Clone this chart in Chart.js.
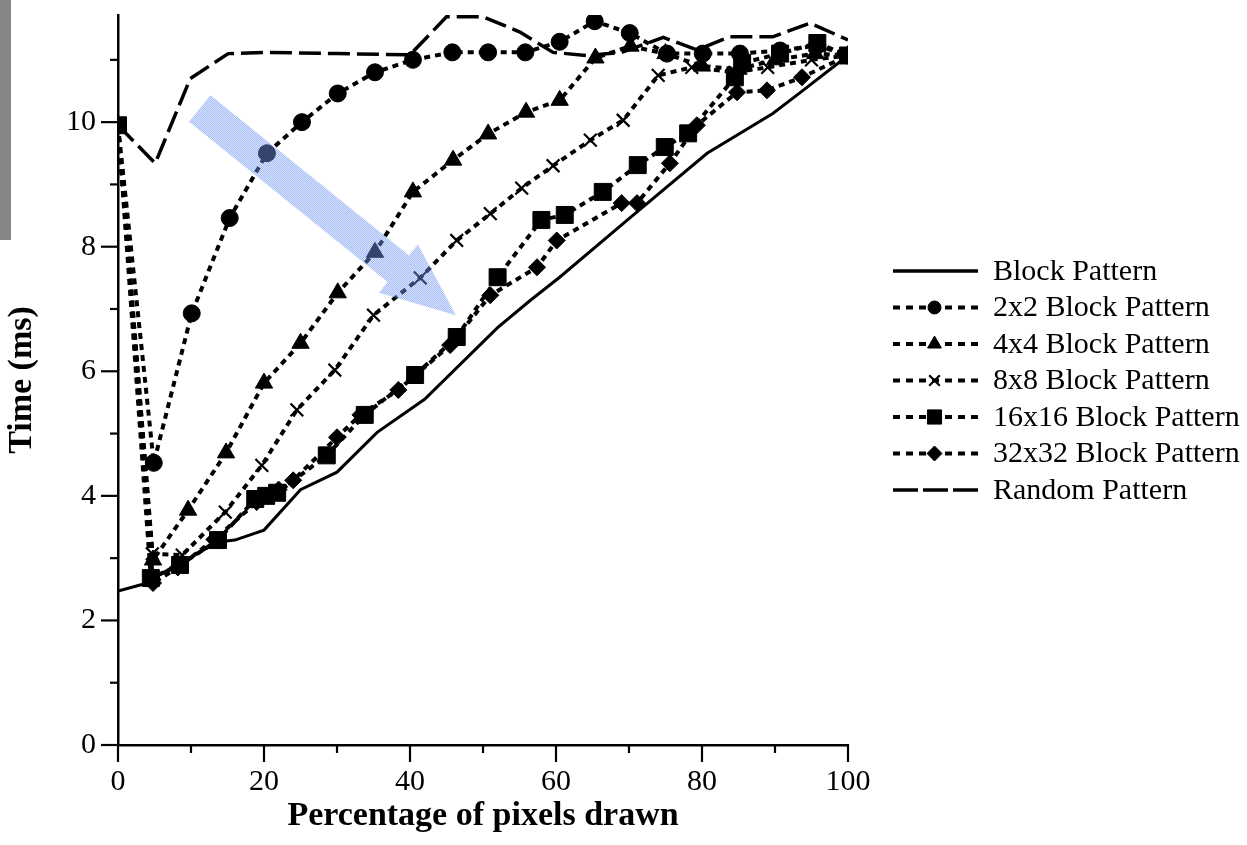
<!DOCTYPE html>
<html>
<head>
<meta charset="utf-8">
<script src="https://cdn.jsdelivr.net/npm/chart.js@4.4.1/dist/chart.umd.min.js"></script>
<style>
  html, body { margin: 0; padding: 0; background: #fff; }
  #wrap { position: relative; width: 1247px; height: 845px; }
  #bar { position: absolute; left: 0; top: 0; width: 11px; height: 240px; background: #858585; }
</style>
</head>
<body>
<div id="wrap">
  <canvas id="chart"></canvas>
  <div id="bar"></div>
</div>
<script>
// values (x = % of pixels drawn, y = time in ms)
const blockX = [0, 3.4, 8.5, 13.7, 16, 20, 25, 30, 35.5, 42, 52, 56.5, 60.5, 70, 80.7, 89.7, 93.4, 100];
const blockY = [2.47, 2.58, 2.92, 3.26, 3.29, 3.45, 4.1, 4.38, 5.02, 5.55, 6.7, 7.14, 7.51, 8.45, 9.5, 10.14, 10.47, 11.07];

const b2X = [0, 4.9, 10.1, 15.3, 20.4, 25.2, 30.1, 35.2, 40.4, 45.8, 50.7, 55.8, 60.5, 65.3, 70.1, 75.2, 80.1, 85.2, 90.7, 95.8, 100];
const b2Y = [9.95, 4.53, 6.93, 8.46, 9.5, 10.0, 10.46, 10.8, 11.0, 11.12, 11.12, 11.12, 11.29, 11.62, 11.43, 11.1, 11.1, 11.1, 11.15, 11.23, 11.07];

const b4X = [0, 4.8, 9.6, 14.8, 20, 25, 30.1, 35.2, 40.4, 45.9, 50.7, 55.9, 60.5, 65.4, 70.2, 75, 80, 85, 90, 95.5, 100];
const b4Y = [9.95, 2.97, 3.77, 4.69, 5.81, 6.45, 7.26, 7.91, 8.88, 9.39, 9.81, 10.16, 10.35, 11.03, 11.22, 11.1, 10.9, 10.85, 11.0, 11.1, 11.07];

const b8X = [0, 4.7, 8.8, 14.7, 19.7, 24.5, 29.7, 35, 41.4, 46.4, 51, 55.3, 59.6, 64.7, 69.2, 74, 78.6, 84.5, 89, 95, 100];
const b8Y = [9.95, 3.07, 3.05, 3.74, 4.49, 5.38, 6.02, 6.9, 7.5, 8.1, 8.53, 8.94, 9.3, 9.71, 10.03, 10.75, 10.88, 10.8, 10.88, 11.0, 11.07];

const b16X = [0, 4.5, 8.5, 13.7, 18.8, 20.3, 21.8, 28.6, 33.8, 40.7, 46.4, 52, 58, 61.2, 66.4, 71.2, 74.9, 78.1, 84.5, 85.5, 90.7, 95.8, 100];
const b16Y = [9.95, 2.68, 2.89, 3.29, 3.95, 4.0, 4.05, 4.65, 5.3, 5.94, 6.55, 7.51, 8.43, 8.51, 8.88, 9.31, 9.6, 9.82, 10.72, 10.95, 11.1, 11.27, 11.07];

const b32X = [0, 4.8, 8.2, 13.2, 19, 22, 24, 30, 33.2, 38.4, 45.5, 51, 57.4, 60.1, 69, 71.1, 75.6, 79.3, 84.8, 88.9, 93.7, 100];
const b32Y = [9.95, 2.6, 2.85, 3.3, 3.9, 4.1, 4.25, 4.94, 5.3, 5.7, 6.42, 7.22, 7.67, 8.1, 8.7, 8.7, 9.34, 9.95, 10.48, 10.51, 10.72, 11.07];

const randomX = [0, 5.1, 9.9, 15.1, 20.4, 30, 40, 45, 50, 55, 59.6, 64.2, 69, 74.7, 79.3, 83.8, 89.7, 94.8, 100];
const randomY = [9.95, 9.34, 10.7, 11.1, 11.12, 11.1, 11.08, 11.69, 11.69, 11.45, 11.12, 11.07, 11.12, 11.36, 11.16, 11.37, 11.37, 11.59, 11.32];

const seriesNames = ['Block Pattern', '2x2 Block Pattern', '4x4 Block Pattern', '8x8 Block Pattern',
  '16x16 Block Pattern', '32x32 Block Pattern', 'Random Pattern'];

const yMax = 11.72;
const yLabelStep = 2;
const xLabelStep = 20;

const pts = (xs, ys) => xs.map((x, i) => ({ x: x, y: ys[i] }));

const SERIF = '"Liberation Serif", "DejaVu Serif", serif';
const DOTS = [6, 5];

// marker hidden at x = 0 (covered by the square there)
const hideFirst = r => ctx => (ctx.dataIndex === 0 ? 0 : r);

function dotted(label, data, style, radius, legendRadius) {
  return {
    label: label,
    data: data,
    borderColor: '#000',
    backgroundColor: '#000',
    borderWidth: 4,
    borderDash: DOTS,
    pointStyle: style,
    pointRadius: hideFirst(radius),
    pointBorderWidth: style === 'crossRot' ? 2.2 : 1,
    pointBorderColor: '#000',
    pointBackgroundColor: '#000',
    legendRadius: legendRadius,
    tension: 0
  };
}

const datasets = [
  {
    label: seriesNames[0], data: pts(blockX, blockY),
    borderColor: '#000', borderWidth: 3, pointRadius: 0, tension: 0
  },
  dotted(seriesNames[1], pts(b2X, b2Y), 'circle', 8.5, 6.5),
  dotted(seriesNames[2], pts(b4X, b4Y), 'triangle', 10, 8),
  dotted(seriesNames[3], pts(b8X, b8Y), 'crossRot', 9, 7.5),
  Object.assign(dotted(seriesNames[4], pts(b16X, b16Y), 'rect', 12, 10), { pointRadius: 12 }),
  dotted(seriesNames[5], pts(b32X, b32Y), 'rectRot', 8.5, 7.5),
  {
    label: seriesNames[6], data: pts(randomX, randomY),
    borderColor: '#000', borderWidth: 3.5, borderDash: [22, 7], pointRadius: 0, tension: 0
  }
];

// minor/major tick marks, drawn outside the plot like the original
const axisTicks = {
  id: 'axisTicks',
  afterDraw(chart) {
    const { ctx, scales: { x, y } } = chart;
    ctx.save();
    ctx.strokeStyle = '#000';
    ctx.lineWidth = 2.2;
    for (let v = 0; v <= Math.floor(yMax); v++) {
      const p = y.getPixelForValue(v);
      const len = v % yLabelStep === 0 ? 17 : 8;
      ctx.beginPath(); ctx.moveTo(x.left - len, p); ctx.lineTo(x.left, p); ctx.stroke();
    }
    for (let v = 0; v <= 100; v += 10) {
      const p = x.getPixelForValue(v);
      const len = v % xLabelStep === 0 ? 17 : 8;
      ctx.beginPath(); ctx.moveTo(p, y.bottom); ctx.lineTo(p, y.bottom + len); ctx.stroke();
    }
    ctx.restore();
  }
};

// the light blue arrow over the curves
const arrowFrom = { x: 11.2, y: 10.22 };
const arrowTo = { x: 46.3, y: 6.9 };
const blueArrow = {
  id: 'blueArrow',
  afterDatasetsDraw(chart) {
    const { ctx, scales: { x, y } } = chart;
    const sx = x.getPixelForValue(arrowFrom.x), sy = y.getPixelForValue(arrowFrom.y);
    const tx = x.getPixelForValue(arrowTo.x), ty = y.getPixelForValue(arrowTo.y);
    const len = Math.hypot(tx - sx, ty - sy);
    const ux = (tx - sx) / len, uy = (ty - sy) / len;
    const nx = -uy, ny = ux;
    const hw = 17, hh = 31, hl = 74;
    const bx = tx - ux * hl, by = ty - uy * hl;
    // small checker pattern, like the dithered fill of the original
    const pc = document.createElement('canvas');
    pc.width = 2; pc.height = 2;
    const p = pc.getContext('2d');
    p.fillStyle = 'rgba(95, 135, 240, 0.55)'; p.fillRect(0, 0, 1, 1); p.fillRect(1, 1, 1, 1);
    p.fillStyle = 'rgba(150, 175, 245, 0.35)'; p.fillRect(1, 0, 1, 1); p.fillRect(0, 1, 1, 1);
    ctx.save();
    ctx.fillStyle = ctx.createPattern(pc, 'repeat');
    ctx.beginPath();
    ctx.moveTo(sx + nx * hw, sy + ny * hw);
    ctx.lineTo(bx + nx * hw, by + ny * hw);
    ctx.lineTo(bx + nx * hh, by + ny * hh);
    ctx.lineTo(tx, ty);
    ctx.lineTo(bx - nx * hh, by - ny * hh);
    ctx.lineTo(bx - nx * hw, by - ny * hw);
    ctx.lineTo(sx - nx * hw, sy - ny * hw);
    ctx.closePath();
    ctx.fill();
    ctx.restore();
  }
};

// legend on the right: line sample with the marker in the middle
const sideLegend = {
  id: 'sideLegend',
  afterDraw(chart) {
    const { ctx, chartArea } = chart;
    const x0 = chartArea.right + 45, x1 = x0 + 85, tx = x1 + 15;
    let yy = 271;
    ctx.save();
    ctx.font = '30px ' + SERIF;
    ctx.textBaseline = 'middle';
    chart.data.datasets.forEach(ds => {
      ctx.strokeStyle = '#000';
      ctx.lineWidth = ds.borderDash === DOTS ? 4 : 3.5;
      ctx.setLineDash(ds.borderDash === DOTS ? [7, 6] : (ds.borderDash ? [25, 5] : []));
      ctx.beginPath(); ctx.moveTo(x0, yy); ctx.lineTo(x1, yy); ctx.stroke();
      ctx.setLineDash([]);
      if (ds.pointStyle) {
        ctx.fillStyle = '#000';
        ctx.lineWidth = ds.pointStyle === 'crossRot' ? 2.2 : 1;
        Chart.helpers.drawPoint(ctx, {
          pointStyle: ds.pointStyle, radius: ds.legendRadius, rotation: 0,
          borderWidth: ctx.lineWidth
        }, (x0 + x1) / 2 - 1, yy);
      }
      ctx.fillStyle = '#000';
      ctx.fillText(ds.label, tx, yy + 1);
      yy += 36.5;
    });
    ctx.restore();
  }
};

new Chart(document.getElementById('chart'), {
  type: 'line',
  data: { datasets: datasets },
  options: {
    responsive: true,
    maintainAspectRatio: false,
    animation: false,
    layout: { padding: { left: 0, top: 15, right: 399, bottom: 0 } },
    plugins: {
      legend: { display: false },
      tooltip: { enabled: false }
    },
    scales: {
      x: {
        type: 'linear',
        min: 0, max: 100,
        afterFit: s => { s.height = 100; s.paddingLeft = 0; s.paddingRight = 0; },
        grid: { display: false, drawTicks: false },
        border: { display: true, color: '#000', width: 2.5 },
        ticks: {
          stepSize: xLabelStep, color: '#000', padding: 19,
          font: { family: SERIF, size: 30 }
        },
        title: {
          display: true, text: 'Percentage of pixels drawn', color: '#000',
          font: { family: SERIF, size: 34, weight: 'bold' },
          padding: { top: 0, bottom: 8 }
        }
      },
      y: {
        type: 'linear',
        min: 0, max: yMax,
        afterFit: s => { s.width = 118; s.paddingTop = 0; s.paddingBottom = 0; },
        grid: { display: false, drawTicks: false },
        border: { display: true, color: '#000', width: 2.5 },
        ticks: {
          stepSize: yLabelStep, includeBounds: false, color: '#000', padding: 22,
          font: { family: SERIF, size: 30 }
        },
        title: {
          display: true, text: 'Time (ms)', color: '#000',
          font: { family: SERIF, size: 34, weight: 'bold' },
          padding: { top: 2, bottom: 0 }
        }
      }
    }
  },
  plugins: [axisTicks, blueArrow, sideLegend]
});
</script>
</body>
</html>
